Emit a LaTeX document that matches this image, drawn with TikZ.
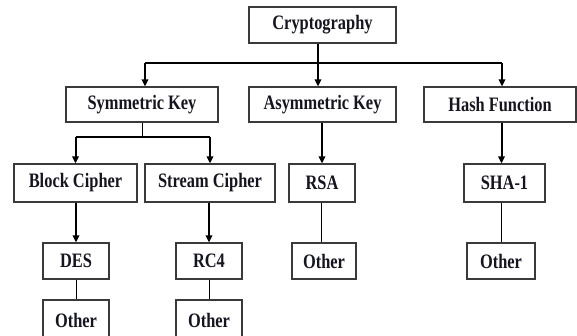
\documentclass[tikz,border=0pt]{standalone}
\usepackage{fontspec}
\setmainfont{Liberation Serif}[FakeStretch=0.80]
\usetikzlibrary{arrows.meta}
\definecolor{boxline}{HTML}{3A3A3A}
\definecolor{labeltext}{HTML}{15151F}
\tikzset{
  box/.style={draw=boxline, line width=1.2pt, fill=white, inner sep=0pt,
    minimum height=36pt, text=labeltext,
    font=\fontsize{20.5}{23}\selectfont\bfseries},
  heavy/.style={line width=2pt, draw=black},
  heavyarrow/.style={heavy, -{Triangle[length=7pt,width=6.5pt]}},
  light/.style={line width=1pt, draw=black},
}
\begin{document}
\begin{tikzpicture}[x=1pt, y=-1pt]
\useasboundingbox (0,0) rectangle (577,336);

% top level
\node[box, minimum width=147pt] (crypto) at (322.5,25) {Cryptography};

% second level
\node[box, minimum width=152pt, minimum height=35pt] (sym)  at (142,104.5) {Symmetric Key};
\node[box, minimum width=147pt, minimum height=35pt] (asym) at (322.5,104.5) {Asymmetric Key};
\node[box, minimum width=152pt, minimum height=35pt] (hash) at (500,104.5) {Hash Function};

% third level
\node[box, minimum width=123pt, minimum height=38pt] (block)  at (75.5,183) {Block Cipher};
\node[box, minimum width=130pt, minimum height=38pt] (stream) at (210,183) {Stream Cipher};
\node[box, minimum width=66pt,  minimum height=38pt] (rsa)    at (322,183) {RSA};
\node[box, minimum width=81pt,  minimum height=38pt] (sha)    at (504.5,183) {SHA-1};

% fourth level
\node[box, minimum width=66pt] (des)    at (76,261)  {DES};
\node[box, minimum width=66pt] (rc4)    at (209,261) {RC4};
\node[box, minimum width=64pt] (rsaoth) at (324,261) {Other};
\node[box, minimum width=68pt] (shaoth) at (501,261) {Other};

% fifth level
\node[box, minimum width=66pt, minimum height=40pt] (desoth) at (76,320)  {Other};
\node[box, minimum width=66pt, minimum height=40pt] (rc4oth) at (209,320) {Other};

% branching below Cryptography
\coordinate (bus) at (0,63);
\draw[heavy] ([xshift=-4.5pt]crypto.south) -- ([xshift=-4.5pt]crypto.south |- bus);
\draw[heavy] ([xshift=3pt]sym.north |- bus) -- ([xshift=2pt]hash.north |- bus);
\draw[heavyarrow] ([xshift=3pt]sym.north |- bus) -- ([xshift=3pt]sym.north);
\draw[heavyarrow] ([xshift=-4.5pt]crypto.south |- bus) -- ([xshift=-4.5pt]asym.north);
\draw[heavyarrow] ([xshift=2pt]hash.north |- bus) -- ([xshift=2pt]hash.north);

% branching below Symmetric Key
\coordinate (symbus) at (0,137);
\draw[light] (sym.south) -- (sym.south |- symbus);
\draw[heavy] (block.north |- symbus) -- (stream.north |- symbus);
\draw[heavyarrow] (block.north |- symbus) -- (block.north);
\draw[heavyarrow] (stream.north |- symbus) -- (stream.north);

% single children
\draw[heavyarrow] (asym.south -| rsa.north) -- (rsa.north);
\draw[heavyarrow] ([xshift=1.5pt]hash.south) -- ([xshift=1.5pt]hash.south |- sha.north);
\draw[heavyarrow] (block.south -| des.north) -- (des.north);
\draw[heavyarrow] (stream.south -| rc4.north) -- (rc4.north);

% plain links to the remaining leaves
\draw[light] ([xshift=-1pt]rsa.south) -- ([xshift=-1pt]rsa.south |- rsaoth.north);
\draw[light] (sha.south -| shaoth.north) -- (shaoth.north);
\draw[light] (des.south) -- (desoth.north);
\draw[light] (rc4.south) -- (rc4oth.north);
\end{tikzpicture}
\end{document}
